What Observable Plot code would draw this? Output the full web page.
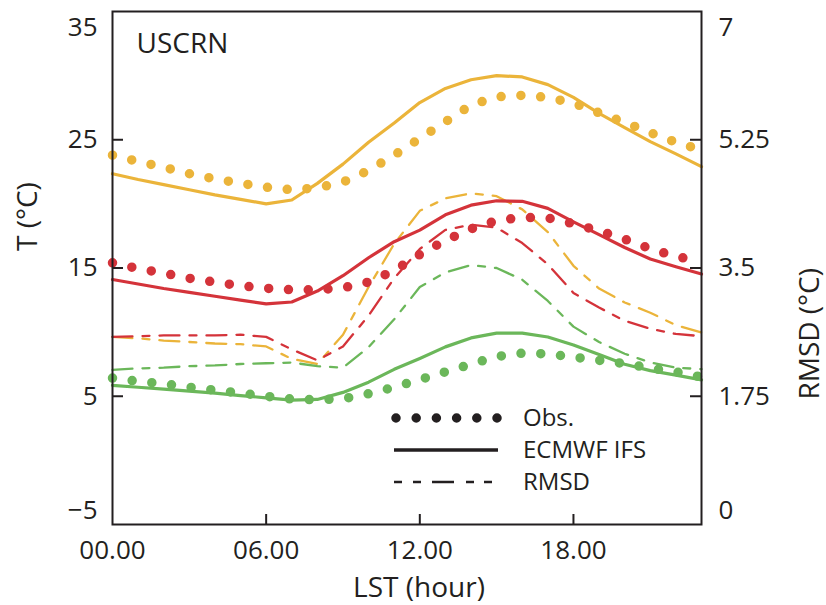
<!DOCTYPE html>
<html>
<head>
<meta charset="utf-8">
<script src="https://cdn.jsdelivr.net/npm/d3@7"></script>
<script src="https://cdn.jsdelivr.net/npm/@observablehq/plot@0.6"></script>
<style>
  html, body { margin: 0; padding: 0; background: #fff; }
  #wrap { position: relative; width: 826px; height: 605px; }
  #legend { position: absolute; left: 0; top: 0; pointer-events: none; }
</style>
</head>
<body>
<div id="wrap"></div>
<script>
// ---- data ----
const hours = [0,1,2,3,4,5,6,7,8,9,10,11,12,13,14,15,16,17,18,19,20,21,22,23];
const seriesNames = ["S1", "S2", "S3"];
const seriesColors = ["#ebb43a", "#d4333a", "#6bb75a"];

// Observed 2 m temperature (°C)
const obsS1 = [23.8,23.3,22.85,22.35,21.95,21.6,21.3,21.1,21.25,21.7,22.6,23.8,25.1,26.4,27.7,28.35,28.46,28.3,27.85,27.1,26.35,25.55,24.8,24.2];
const obsS2 = [15.4,14.95,14.6,14.2,13.9,13.62,13.42,13.3,13.3,13.45,13.9,14.8,16.05,17.15,18.05,18.7,18.95,18.9,18.45,17.9,17.25,16.5,15.9,15.5];
const obsS3 = [6.42,6.16,5.97,5.7,5.48,5.25,5.0,4.78,4.72,4.8,5.2,5.7,6.3,6.9,7.5,8.1,8.36,8.3,8.05,7.8,7.55,7.2,6.9,6.5];

// ECMWF IFS 2 m temperature (°C)
const ifsS1 = [22.35,21.9,21.5,21.1,20.7,20.35,20.0,20.3,21.6,23.1,24.8,26.3,27.9,29.0,29.68,30.0,29.9,29.3,28.3,27.05,25.95,24.85,23.9,22.9];
const ifsS2 = [14.1,13.75,13.4,13.1,12.8,12.5,12.2,12.35,13.2,14.4,15.8,17.05,17.95,19.15,19.9,20.24,20.2,19.65,18.6,17.6,16.6,15.7,15.1,14.53];
const ifsS3 = [5.85,5.7,5.55,5.4,5.25,5.05,4.88,4.7,4.75,5.3,6.1,7.1,7.95,8.85,9.55,9.92,9.92,9.62,9.0,8.25,7.5,7.0,6.65,6.28];

// RMSD (°C), right axis
const rmsdS1 = [2.56,2.54,2.51,2.49,2.47,2.46,2.43,2.26,2.19,2.59,3.24,3.83,4.28,4.45,4.52,4.48,4.30,3.99,3.53,3.22,3.03,2.89,2.72,2.62];
const rmsdS2 = [2.56,2.57,2.58,2.58,2.58,2.59,2.56,2.39,2.24,2.43,2.85,3.36,3.76,4.02,4.09,4.05,3.84,3.55,3.16,2.96,2.78,2.67,2.60,2.57];
const rmsdS3 = [2.11,2.13,2.14,2.16,2.17,2.19,2.20,2.21,2.16,2.14,2.42,2.80,3.24,3.44,3.54,3.50,3.34,3.05,2.70,2.49,2.33,2.21,2.14,2.12];

// axes
const tDomain = [-5, 35];
const rmsdDomain = [0, 7];
const xTicks = [0, 6, 12, 18];
const tTicksInner = [25, 15, 5];
const legendLabels = ["Obs.", "ECMWF IFS", "RMSD"];
const panelLabel = "USCRN";

// ---- build tables ----
const obsAll = [obsS1, obsS2, obsS3];
const ifsAll = [ifsS1, ifsS2, ifsS3];
const rmsdAll = [rmsdS1, rmsdS2, rmsdS3];
function table(arrs) {
  const rows = [];
  arrs.forEach((arr, i) => arr.forEach((v, j) => rows.push({s: seriesNames[i], h: hours[j], v})));
  return rows;
}
const obsData = table(obsAll);
const ifsData = table(ifsAll);
const rmsdData = table(rmsdAll);

// map RMSD onto the temperature scale (both axes share the same frame)
const rToT = r => tDomain[0] + (r - rmsdDomain[0]) * (tDomain[1] - tDomain[0]) / (rmsdDomain[1] - rmsdDomain[0]);
const tToR = t => rmsdDomain[0] + (t - tDomain[0]) * (rmsdDomain[1] - rmsdDomain[0]) / (tDomain[1] - tDomain[0]);

const ink = "#231f20";
const FONT = "'Open Sans', 'DejaVu Sans', sans-serif";
const fmtHour = d => String(d).padStart(2, "0") + ".00";
const fmtR = t => String(+tToR(t).toFixed(2));

const chart = Plot.plot({
  width: 826,
  height: 605,
  marginLeft: 112,
  marginRight: 125,
  marginTop: 11,
  marginBottom: 81,
  style: {fontFamily: FONT, fontSize: "26px", color: ink, background: "#fff"},
  x: {domain: [0, 23]},
  y: {domain: tDomain},
  color: {domain: seriesNames, range: seriesColors},
  marks: [
    // RMSD dash-dot lines
    Plot.line(rmsdData, {x: "h", y: d => rToT(d.v), z: "s", stroke: "s", strokeWidth: 2.3, strokeDasharray: "20,10,7,10"}),
    // ECMWF IFS solid lines
    Plot.line(ifsData, {x: "h", y: "v", z: "s", stroke: "s", strokeWidth: 3.2}),
    // Observations dotted lines
    Plot.line(obsData, {x: "h", y: "v", z: "s", stroke: "s", strokeWidth: 9.5, strokeLinecap: "round", strokeDasharray: "0,19.8"}),
    Plot.frame({stroke: ink, strokeWidth: 2}),
    // inward ticks
    Plot.tickY(tTicksInner, {y: d => d, stroke: ink, strokeWidth: 2, insetRight: 578}),
    Plot.tickY(tTicksInner, {y: d => d, stroke: ink, strokeWidth: 2, insetLeft: 578}),
    Plot.tickX(xTicks.slice(1), {x: d => d, stroke: ink, strokeWidth: 2, insetTop: 503}),
    // tick labels
    Plot.axisX(xTicks, {anchor: "bottom", tickSize: 0, tickPadding: 16, tickFormat: fmtHour, label: null, fontSize: 26, fill: ink}),
    Plot.axisY(tTicksInner, {anchor: "left", tickSize: 0, tickPadding: 15, label: null, fontSize: 26, fill: ink}),
    Plot.axisY([tDomain[1]], {anchor: "left", tickSize: 0, tickPadding: 15, label: null, fontSize: 26, fill: ink, dy: 16}),
    Plot.axisY([tDomain[0]], {anchor: "left", tickSize: 0, tickPadding: 15, label: null, fontSize: 26, fill: ink, dy: -14, tickFormat: d => "\u2212" + Math.abs(d)}),
    Plot.axisY(tTicksInner, {anchor: "right", tickSize: 0, tickPadding: 17, label: null, fontSize: 26, fill: ink, tickFormat: fmtR}),
    Plot.axisY([tDomain[1]], {anchor: "right", tickSize: 0, tickPadding: 17, label: null, fontSize: 26, fill: ink, dy: 16, tickFormat: fmtR}),
    Plot.axisY([tDomain[0]], {anchor: "right", tickSize: 0, tickPadding: 17, label: null, fontSize: 26, fill: ink, dy: -14, tickFormat: fmtR}),
    // titles
    Plot.text(["LST (hour)"], {frameAnchor: "bottom", dx: 12, dy: 64, lineAnchor: "middle", fontSize: 28, fill: ink}),
    Plot.text(["T (\u00B0C)"], {frameAnchor: "left", dx: -84, dy: -17, rotate: -90, lineAnchor: "middle", fontSize: 28, fill: ink}),
    Plot.text(["RMSD (\u00B0C)"], {frameAnchor: "right", dx: 109, dy: 0, rotate: -90, lineAnchor: "middle", fontSize: 28, fill: ink}),
    Plot.text([panelLabel], {frameAnchor: "top-left", dx: 24, dy: 22, textAnchor: "start", lineAnchor: "top", fontSize: 28, fill: ink})
  ]
});

const wrap = document.getElementById("wrap");
wrap.appendChild(chart);

// ---- legend overlay (inside plot area, lower right) ----
const ns = "http://www.w3.org/2000/svg";
const leg = document.createElementNS(ns, "svg");
leg.setAttribute("id", "legend");
leg.setAttribute("width", 826);
leg.setAttribute("height", 605);
const lx0 = 396, lx1 = 498, tx = 523;
const rowsY = [418, 450, 482];
const styles = [
  {w: 9.5, dash: "0,20.2", cap: "round"},
  {w: 3.5, dash: null, cap: "butt"},
  {w: 2.3, dash: "8,11,8,11,22,12,8,10,8", cap: "butt"}
];
legendLabels.forEach((lab, i) => {
  const ln = document.createElementNS(ns, "line");
  ln.setAttribute("x1", lx0 + (i === 0 ? 0 : -2));
  ln.setAttribute("x2", lx1 + (i === 0 ? 1 : 0));
  ln.setAttribute("y1", rowsY[i]);
  ln.setAttribute("y2", rowsY[i]);
  ln.setAttribute("stroke", ink);
  ln.setAttribute("stroke-width", styles[i].w);
  ln.setAttribute("stroke-linecap", styles[i].cap);
  if (styles[i].dash) ln.setAttribute("stroke-dasharray", styles[i].dash);
  leg.appendChild(ln);
  const t = document.createElementNS(ns, "text");
  t.setAttribute("x", tx);
  t.setAttribute("y", rowsY[i] + 8);
  t.setAttribute("font-family", FONT);
  t.setAttribute("font-size", 24);
  t.setAttribute("fill", ink);
  t.textContent = lab;
  leg.appendChild(t);
});
wrap.appendChild(leg);
</script>
</body>
</html>
